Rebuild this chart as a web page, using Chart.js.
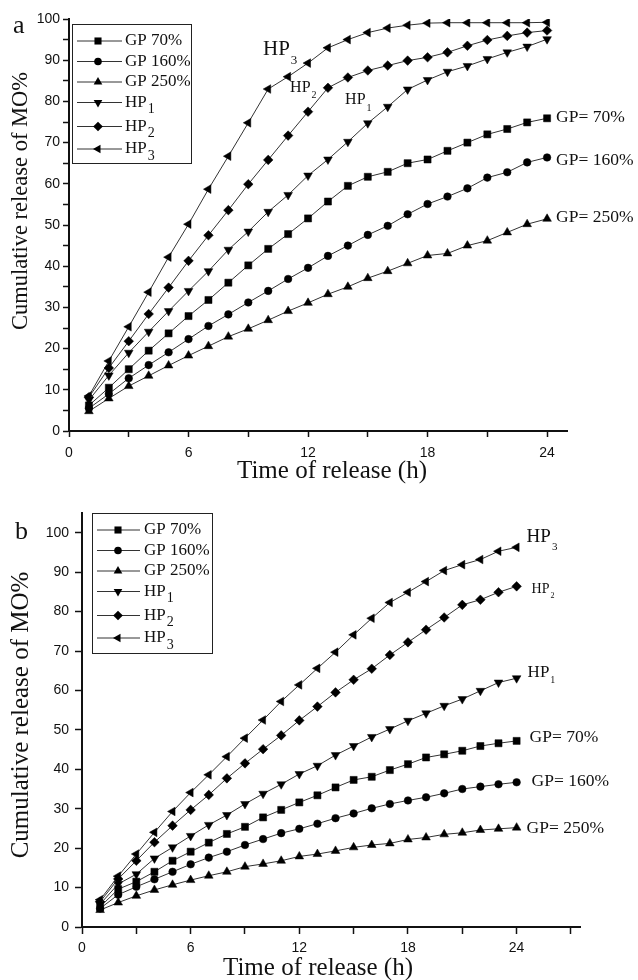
<!DOCTYPE html>
<html>
<head>
<meta charset="utf-8">
<script src="https://cdn.jsdelivr.net/npm/chart.js@4/dist/chart.umd.min.js"></script>
<style>
  body { margin: 0; background: #fff; }
  .panel { position: relative; width: 638px; height: 490px; }
</style>
</head>
<body>
<div class="panel"><canvas id="chartA" width="638" height="490"></canvas></div>
<div class="panel"><canvas id="chartB" width="638" height="490"></canvas></div>
<script>
// time points (h)
const hours = [1,2,3,4,5,6,7,8,9,10,11,12,13,14,15,16,17,18,19,20,21,22,23,24];
const seriesNames = ['GP 70%', 'GP 160%', 'GP 250%', 'HP1', 'HP2', 'HP3'];

// panel a
const aGP70  = [6.2,10.5,15.0,19.5,23.7,27.9,31.8,36.0,40.2,44.2,47.8,51.6,55.7,59.5,61.7,62.9,65.0,65.9,68.0,70.0,72.0,73.3,74.9,75.9];
const aGP160 = [5.5,9.0,12.8,16.0,19.1,22.3,25.5,28.3,31.2,34.0,36.9,39.6,42.5,45.0,47.6,49.8,52.6,55.1,56.9,58.9,61.5,62.8,65.2,66.4];
const aGP250 = [4.8,7.9,10.9,13.4,15.9,18.3,20.6,22.9,24.8,26.9,29.1,31.1,33.2,35.0,37.1,38.8,40.7,42.6,43.1,45.0,46.2,48.2,50.2,51.5];
const aHP1   = [7.5,13.5,19.0,24.1,29.1,34.0,38.8,44.0,48.4,53.2,57.3,62.0,65.9,70.2,74.7,78.7,82.9,85.2,87.2,88.6,90.3,91.9,93.3,95.1];
const aHP2   = [8.2,15.3,21.8,28.4,34.8,41.3,47.5,53.6,59.9,65.8,71.7,77.5,83.3,85.8,87.5,88.7,89.9,90.7,91.9,93.5,94.9,95.9,96.7,97.2];
const aHP3   = [8.5,17.0,25.3,33.7,42.2,50.2,58.7,66.7,74.8,83.0,86.0,89.3,93.0,95.0,96.7,97.8,98.5,99.0,99.1,99.1,99.1,99.1,99.1,99.2];

// panel b
const bGP70  = [5.1,9.6,11.5,14.0,16.8,19.1,21.4,23.6,25.4,27.8,29.7,31.6,33.4,35.4,37.3,38.1,39.8,41.3,43.0,43.8,44.7,45.9,46.6,47.2];
const bGP160 = [4.7,8.2,10.2,12.1,14.0,15.9,17.6,19.1,20.8,22.3,23.8,24.9,26.2,27.6,28.8,30.1,31.2,32.1,32.9,33.9,35.0,35.6,36.2,36.7];
const bGP250 = [4.3,6.2,7.9,9.4,10.7,11.9,13.0,14.0,15.3,16.0,16.8,17.9,18.5,19.3,20.2,20.8,21.2,22.2,22.7,23.5,23.9,24.6,24.9,25.2];
const bHP1   = [5.8,10.9,13.4,17.4,20.2,23.1,25.9,28.4,31.2,33.8,36.2,38.8,40.9,43.6,45.9,48.2,50.2,52.3,54.2,56.1,57.8,59.9,62.0,63.1];
const bHP2   = [6.4,12.2,16.8,21.5,25.7,29.7,33.5,37.7,41.5,45.1,48.6,52.4,55.9,59.5,62.7,65.5,69.0,72.2,75.4,78.5,81.7,83.0,84.9,86.4];
const bHP3   = [6.9,12.9,18.5,24.0,29.3,34.1,38.6,43.2,47.9,52.5,57.2,61.4,65.6,69.7,74.1,78.3,82.3,84.9,87.6,90.4,91.9,93.2,95.3,96.3];

const markers = [
  { pointStyle: 'rect', radius: 5, rotation: 0 },
  { pointStyle: 'circle', radius: 3.8, rotation: 0 },
  { pointStyle: 'triangle', radius: 5, rotation: 0 },
  { pointStyle: 'triangle', radius: 5, rotation: 180 },
  { pointStyle: 'rectRot', radius: 4.8, rotation: 0 },
  { pointStyle: 'triangle', radius: 5, rotation: 270 }
];

const SERIF = '"Liberation Serif", "Times New Roman", serif';
const SANS = '"Liberation Sans", Arial, sans-serif';

// "HP3" -> HP with subscript 3
function drawLabel(ctx, x, y, text, size, subScale, subDrop) {
  const m = /^(HP)(\d)$/.exec(text);
  const main = m ? m[1] : text;
  ctx.font = size + 'px ' + SERIF;
  ctx.textAlign = 'left';
  ctx.textBaseline = 'middle';
  ctx.fillText(main, x, y);
  if (m) {
    const w = ctx.measureText(main).width;
    ctx.font = Math.round(size * subScale) + 'px ' + SERIF;
    ctx.fillText(m[2], x + w + 1, y + size * subDrop);
  }
}

function paperPlugin(cfg) {
  return {
    id: 'paper',
    afterDraw(chart) {
      const ctx = chart.ctx;
      const xs = chart.scales.x, ys = chart.scales.y;
      ctx.save();
      ctx.fillStyle = '#111';

      // panel letter
      ctx.font = cfg.letter.size + 'px ' + SERIF;
      ctx.textAlign = 'left';
      ctx.textBaseline = 'middle';
      ctx.fillText(cfg.letter.text, cfg.letter.x, cfg.letter.y);

      // axis titles
      ctx.textAlign = 'center';
      ctx.font = cfg.xTitle.size + 'px ' + SERIF;
      ctx.fillText('Time of release (h)', cfg.xTitle.x, cfg.xTitle.y);
      ctx.save();
      ctx.translate(cfg.yTitle.x, cfg.yTitle.y);
      ctx.rotate(-Math.PI / 2);
      ctx.font = cfg.yTitle.size + 'px ' + SERIF;
      ctx.fillText('Cumulative release of MO%', 0, 0);
      ctx.restore();

      // legend box
      const lg = cfg.legend;
      ctx.strokeStyle = '#222';
      ctx.lineWidth = 1;
      ctx.strokeRect(lg.x + 0.5, lg.y + 0.5, lg.w, lg.h);
      chart.data.datasets.forEach((ds, i) => {
        const ry = lg.y + lg.rows[i];
        ctx.beginPath();
        ctx.moveTo(lg.x + 5, ry);
        ctx.lineTo(lg.x + lg.lineEnd, ry);
        ctx.strokeStyle = '#333';
        ctx.stroke();
        ctx.fillStyle = '#000';
        Chart.helpers.drawPoint(ctx, {
          pointStyle: ds.pointStyle, rotation: ds.pointRotation,
          radius: ds.pointRadius, borderWidth: 0
        }, lg.x + 26, ry);
        ctx.fillStyle = '#111';
        drawLabel(ctx, lg.x + lg.textX, ry, ds.label, 17, 0.85, 0.42);
      });

      // curve labels
      cfg.notes.forEach(n => {
        let px, py;
        if (n.series !== undefined) {
          const d = chart.data.datasets[n.series].data;
          const last = d[d.length - 1];
          px = xs.getPixelForValue(last.x) + n.dx;
          py = ys.getPixelForValue(last.y) + n.dy;
        } else {
          px = xs.getPixelForValue(n.x);
          py = ys.getPixelForValue(n.y);
        }
        drawLabel(ctx, px, py, n.text, n.size, 0.6, 0.5);
      });
      ctx.restore();
    }
  };
}

function makeChart(id, series, ax, cfg) {
  const datasets = series.map((vals, i) => ({
    label: seriesNames[i],
    data: hours.map((h, k) => ({ x: h, y: vals[k] })),
    borderColor: '#333',
    borderWidth: 1,
    backgroundColor: '#000',
    pointBackgroundColor: '#000',
    pointBorderColor: '#000',
    pointBorderWidth: 0.5,
    pointStyle: markers[i].pointStyle,
    pointRotation: markers[i].rotation,
    pointRadius: markers[i].radius,
    tension: 0
  }));
  const tickFont = { family: SANS, size: 14 };
  return new Chart(document.getElementById(id), {
    type: 'line',
    data: { datasets: datasets },
    options: {
      responsive: false,
      animation: false,
      layout: { padding: ax.padding },
      plugins: { legend: { display: false }, tooltip: { enabled: false } },
      scales: {
        x: {
          type: 'linear', min: 0, max: ax.xMax,
          ticks: {
            stepSize: 3, includeBounds: false, autoSkip: false, maxRotation: 0,
            callback: v => (v % 6 === 0 ? v : ''),
            font: tickFont, color: '#111', padding: ax.xPad
          },
          grid: { drawOnChartArea: false, tickLength: ax.tickLen, tickColor: '#111', tickWidth: 1.5 },
          border: { color: '#111', width: 2 },
          afterFit: s => { s.height = ax.xHeight; }
        },
        y: {
          min: 0, max: ax.yMax,
          ticks: {
            stepSize: 5, includeBounds: false,
            callback: v => (v % 10 === 0 && v <= 100 ? v : ''),
            font: tickFont, color: '#111', padding: ax.yPad
          },
          grid: { drawOnChartArea: false, tickLength: ax.tickLen, tickColor: '#111', tickWidth: 1.5 },
          border: { color: '#111', width: 2 },
          afterFit: s => { s.width = ax.yWidth; }
        }
      }
    },
    plugins: [paperPlugin(cfg)]
  });
}

const legendRows = [17, 37.5, 58, 78.5, 102.5, 125];

makeChart('chartA', [aGP70, aGP160, aGP250, aHP1, aHP2, aHP3],
  { xMax: 25, yMax: 100, padding: { left: 0, right: 71, top: 19, bottom: 0 },
    xHeight: 59, yWidth: 69, tickLen: 6, xPad: 8, yPad: 3 },
  {
    letter: { text: 'a', x: 13, y: 26, size: 26 },
    xTitle: { x: 332, y: 471, size: 25 },
    yTitle: { x: 21, y: 201, size: 22.5 },
    legend: { x: 72, y: 24, w: 119, h: 139, rows: legendRows, lineEnd: 50, textX: 53 },
    notes: [
      { text: 'HP3', x: 9.74, y: 92.5, size: 21 },
      { text: 'HP2', x: 11.1, y: 83.3, size: 16 },
      { text: 'HP1', x: 13.86, y: 80.3, size: 16 },
      { text: 'GP= 70%', series: 0, dx: 9, dy: -1, size: 17.5 },
      { text: 'GP= 160%', series: 1, dx: 9, dy: 3, size: 17.5 },
      { text: 'GP= 250%', series: 2, dx: 9, dy: -1, size: 17.5 }
    ]
  });

makeChart('chartB', [bGP70, bGP160, bGP250, bHP1, bHP2, bHP3],
  { xMax: 27.5, yMax: 105, padding: { left: 0, right: 58, top: 23, bottom: 0 },
    xHeight: 53, yWidth: 82, tickLen: 7, xPad: 6, yPad: 6 },
  {
    letter: { text: 'b', x: 15, y: 42, size: 26 },
    xTitle: { x: 318, y: 478, size: 25 },
    yTitle: { x: 21, y: 225, size: 25 },
    legend: { x: 92, y: 23, w: 120, h: 140, rows: legendRows, lineEnd: 48, textX: 52 },
    notes: [
      { text: 'HP3', series: 5, dx: 10, dy: -10, size: 19 },
      { text: 'HP2', series: 4, dx: 15, dy: 3, size: 14 },
      { text: 'HP1', series: 3, dx: 11, dy: -6, size: 17 },
      { text: 'GP= 70%', series: 0, dx: 13, dy: -3, size: 17.5 },
      { text: 'GP= 160%', series: 1, dx: 15, dy: -1, size: 17.5 },
      { text: 'GP= 250%', series: 2, dx: 10, dy: 1, size: 17.5 }
    ]
  });
</script>
</body>
</html>
